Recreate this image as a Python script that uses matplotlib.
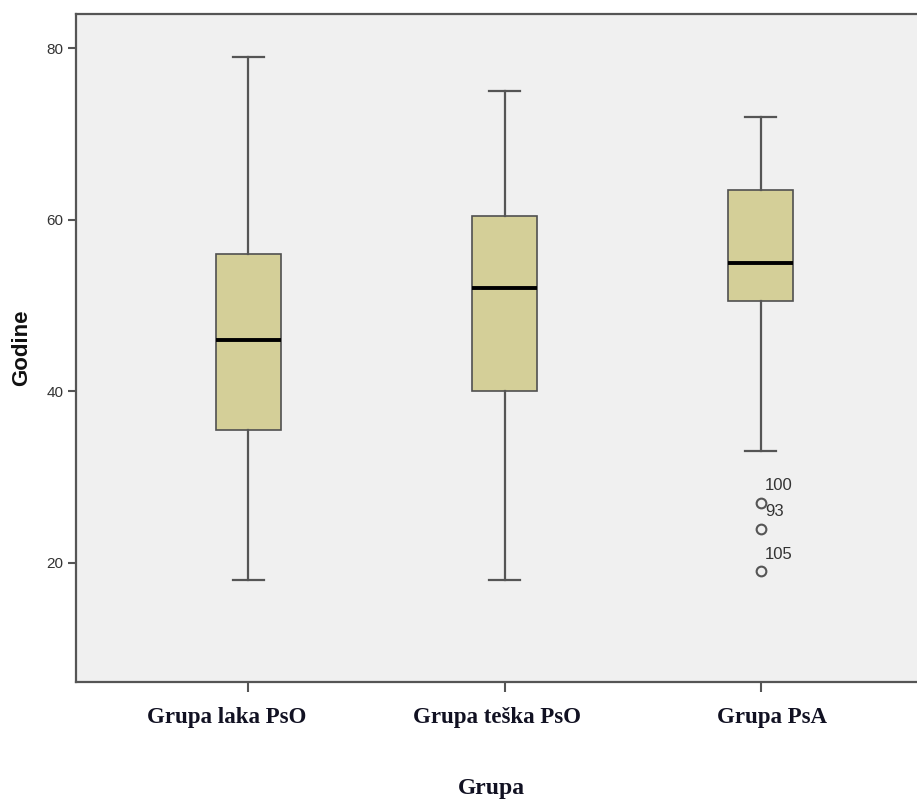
import matplotlib
matplotlib.use("Agg")
import matplotlib.pyplot as plt

categories = ["Grupa laka PsO", "Grupa teška PsO", "Grupa PsA"]
whislo = [18, 18, 33]
q1 = [35.5, 40, 50.5]
med = [46, 52, 55]
q3 = [56, 60.5, 63.5]
whishi = [79, 75, 72]
outliers = [[], [], [27, 24, 19]]
outlier_ids = [[], [], ["100", "93", "105"]]
yticks = [20, 40, 60, 80]

stats = []
for i in range(3):
    stats.append(dict(label=categories[i], whislo=whislo[i], q1=q1[i], med=med[i],
                      q3=q3[i], whishi=whishi[i], fliers=outliers[i]))

fig = plt.figure(figsize=(9.17, 8.08), dpi=100)
ax = fig.add_axes([76/917, 1-682/808, 1-76/917, (682-14)/808])
ax.set_facecolor("#f0f0f0")
pos = [1, 2, 3]
line_col = "#555555"
ax.bxp(stats, positions=pos, widths=0.254, capwidths=0.122, patch_artist=True,
       boxprops=dict(facecolor="#d4cf98", edgecolor="#505050", linewidth=1.2),
       whiskerprops=dict(color=line_col, linewidth=1.6),
       capprops=dict(color=line_col, linewidth=1.6),
       medianprops=dict(color="black", linewidth=2.8),
       flierprops=dict(marker="o", markerfacecolor="none", markeredgecolor="#555555",
                       markersize=7, markeredgewidth=1.5))

for i in range(3):
    for v, lab in zip(outliers[i], outlier_ids[i]):
        ax.annotate(lab, (pos[i], v), xytext=(3, 12.5), textcoords="offset points",
                    fontsize=12, color="#333333", family="Liberation Sans",
                    va="center", ha="left")

ax.set_xlim(0.327, 3.61)
ax.set_ylim(6.1, 84)
ax.set_yticks(yticks)
ax.set_yticklabels([str(t) for t in yticks], family="Liberation Sans", fontsize=11, color="#333333")
ax.set_xticks(pos)
ax.set_xticklabels([])
shifts_px = [-22, -8, 11]
for p, cat, dx in zip(pos, categories, shifts_px):
    ax.annotate(cat, xy=(p, 0), xycoords=("data", "axes fraction"),
                xytext=(dx, -25), textcoords="offset pixels", ha="center", va="top",
                family="Liberation Serif", fontweight="bold", fontsize=16.5,
                color="#111122", annotation_clip=False)
ax.annotate("Grupa", xy=(0.5, 0), xycoords="axes fraction", xytext=(-5, -96),
            textcoords="offset pixels", ha="center", va="top",
            family="Liberation Serif", fontweight="bold", fontsize=17,
            color="#111122", annotation_clip=False)
ax.tick_params(axis="y", length=6, width=1.5, color="#555555", pad=3)
ax.tick_params(axis="x", length=7, width=1.5, color="#555555")
for s in ["left", "bottom", "top"]:
    ax.spines[s].set_color("#555555")
    ax.spines[s].set_linewidth(1.6)
ax.spines["right"].set_visible(False)
ax.set_ylabel("Godine", family="Liberation Sans", fontweight="bold", fontsize=16, labelpad=10,
              color="#111111")

fig.savefig("out.png", dpi=100, facecolor="white")
